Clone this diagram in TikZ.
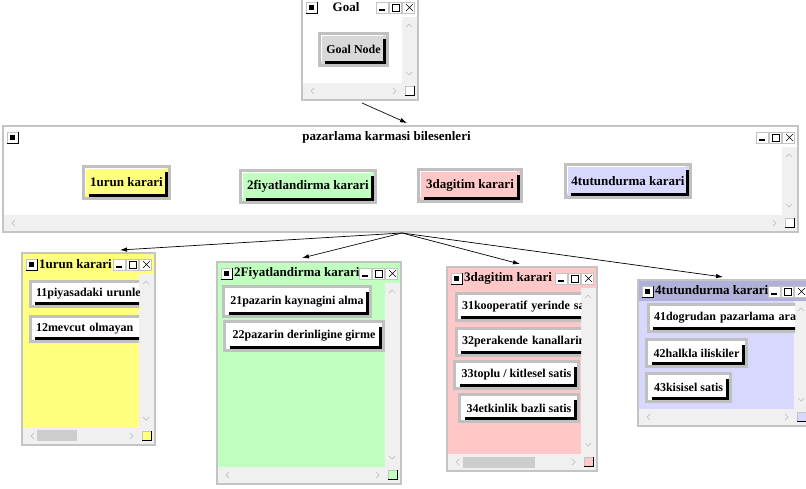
\documentclass[tikz,border=0pt]{standalone}
\usepackage{fontspec}
\setmainfont{Liberation Serif}
\usetikzlibrary{arrows.meta}
\definecolor{rand}{HTML}{C4C4C4}
\definecolor{knoprand}{HTML}{C0C0C0}
\definecolor{schuif}{HTML}{F0F0F0}
\definecolor{lichtgrijs}{HTML}{C0C0C0}
\definecolor{duim}{HTML}{CDCDCD}
\definecolor{geel}{HTML}{FFFF80}
\definecolor{groen}{HTML}{C0FFC0}
\definecolor{roze}{HTML}{FFC8C8}
\definecolor{lila}{HTML}{D8D8FF}
\definecolor{lilatitel}{HTML}{B0B0D8}
\definecolor{knopgrijs}{HTML}{D8D8D8}
\newcommand\knopfont{\fontsize{12}{14}\selectfont\bfseries}
\newcommand\grootfont{\fontsize{13}{15}\selectfont\bfseries}
\tikzstyle{venster}=[draw=rand, line width=2pt, inner sep=0pt]
\tikzstyle{titel}=[font=\grootfont, inner sep=0pt]
\tikzstyle{knop}=[draw=knoprand, line width=3pt, inner sep=0pt, font=\knopfont,
    path picture={
      \draw[black, line width=3.5pt] ([shift={(5pt,3.25pt)}]path picture bounding box.south west)
        -- ([shift={(-3.25pt,3.25pt)}]path picture bounding box.south east)
        -- ([shift={(-3.25pt,-5pt)}]path picture bounding box.north east);
      \draw[white, line width=1pt] ([shift={(2pt,5pt)}]path picture bounding box.south west)
        -- ([shift={(2pt,-2pt)}]path picture bounding box.north west)
        -- ([shift={(-5pt,-2pt)}]path picture bounding box.north east);}]
\tikzstyle{knoplinks}=[knop, anchor=west, text width=190pt, align=left, inner xsep=6pt]
\tikzstyle{pijl}=[-{Latex[length=7pt,width=4.5pt]}, line width=0.7pt]
\tikzstyle{pijltje}=[draw=lichtgrijs, line width=0.7pt]
% name, x1, y1, x2, y2, title fill, body fill
\newcommand{\venster}[7]{%
  \node[venster, fill=#6, minimum width={#4-#2}, minimum height={#5-#3}] (#1)
    at ({(#2+#4)/2},{(#3+#5)/2}) {};
  \fill[#7] (#2+1,#3+21) rectangle (#4-16,#5-17);
  \fill[schuif] (#4-16,#3+21) rectangle (#4-1,#5-1);
  \fill[schuif] (#2+1,#5-17) rectangle (#4-1,#5-1);
  \draw[pijltje] (#4-12,#3+31) -- ++(3,-3) -- ++(3,3);
  \draw[pijltje] (#4-12,#5-28) -- ++(3,3) -- ++(3,-3);
  \draw[pijltje] (#2+12,#5-12) -- ++(-3,3) -- ++(3,3);
  \draw[pijltje] (#4-25,#5-12) -- ++(3,3) -- ++(-3,3);
  \filldraw[fill=#7, draw=rand] (#4-13,#5-14) rectangle (#4-4,#5-5);
  \draw[line width=1pt] (#4-13,#5-5) -- (#4-4,#5-5) -- (#4-4,#5-14);
  \filldraw[fill=white, draw=rand] (#2+4,#3+6) rectangle (#2+15,#3+17);
  \fill (#2+7,#3+9) rectangle (#2+12,#3+14);
  \draw (#2+4,#3+17) -- (#2+15,#3+17) -- (#2+15,#3+6);
  \foreach \k in {0,1,2}
    \filldraw[fill=white, draw=rand] (#4-42+13*\k,#3+6) rectangle ++(12,11);
  \draw[line width=1.5pt] (#4-39,#3+14) -- ++(6,0);
  \draw (#4-26,#3+8) rectangle ++(7,7);
  \draw (#4-12,#3+8) -- ++(7,7) (#4-5,#3+8) -- ++(-7,7);
}

\begin{document}
\begin{tikzpicture}[x=1pt, y=-1pt]
    \useasboundingbox (0,0) rectangle (806,488);
    \venster{goal}{302}{-4}{418}{100}{white}{white}
    \node[titel] (goaltitel) at (346,7) {Goal};
    \node[knop, fill=knopgrijs, minimum width=68, minimum height=32] (goalknop) at (353.5,49.5) {Goal Node};

    \venster{hoofd}{3}{126}{798}{232}{white}{white}
    \node[titel] (hoofdtitel) at (386.5,137) {pazarlama karmasi bilesenleri};
    \node[knop, fill=geel, font=\grootfont, minimum width=86, minimum height=32] (k1) at (126.5,182.5) {1urun karari};
    \node[knop, fill=groen, font=\grootfont, minimum width=135, minimum height=32] (k2) at (308,186.5) {2fiyatlandirma karari};
    \node[knop, fill=roze, font=\grootfont, minimum width=103, minimum height=32] (k3) at (470,185.5) {3dagitim karari};
    \node[knop, fill=lila, font=\grootfont, minimum width=125, minimum height=33] (k4) at (628,181) {4tutundurma karari};

    \venster{w1}{22}{253}{155}{445}{geel}{geel}
    \node[titel, anchor=west] (w1titel) at (39,264) {1urun karari};
    \begin{scope}
      \clip (23,274) rectangle (139,428);
      \node[knoplinks, fill=white, minimum height=25] (k11) at (28.5,294) {11piyasadaki urunle};
      \node[knoplinks, fill=white, minimum height=25] (k12) at (28.5,329) {12mevcut olmayan};
    \end{scope}
    \fill[duim] (37,430) rectangle (77,441);

    \venster{w2}{217}{262}{401}{484}{groen}{groen}
    \node[titel, anchor=west] (w2titel) at (234,273) {2Fiyatlandirma karari};
    \node[knop, fill=white, minimum width=147, minimum height=30] (k21) at (297,301.5) {21pazarin kaynagini alma};
    \node[knop, fill=white, minimum width=159, minimum height=29] (k22) at (304,336) {22pazarin derinligine girme};

    \venster{w3}{447}{267}{597}{471}{roze}{roze}
    \node[titel, anchor=west] (w3titel) at (464,278) {3dagitim karari};
    \begin{scope}
      \clip (448,288) rectangle (581,454);
      \node[knoplinks, fill=white, minimum height=27] (k31) at (454.5,307) {31kooperatif yerinde sa};
      \node[knoplinks, fill=white, minimum height=27] (k32) at (454.5,342) {32perakende kanallarin};
      \node[knop, fill=white, minimum width=124, minimum height=27] (k33) at (516.5,375) {33toplu / kitlesel satis};
      \node[knop, fill=white, minimum width=119, minimum height=27] (k34) at (519,408) {34etkinlik bazli satis};
    \end{scope}
    \fill[duim] (463,457) rectangle (535,468);

    \venster{w4}{638}{280}{810}{426}{lilatitel}{lila}
    \node[titel, anchor=west] (w4titel) at (655,290) {4tutundurma karari};
    \begin{scope}
      \clip (639,301) rectangle (795,409);
      \node[knoplinks, fill=white, minimum height=27] (k41) at (646.5,318) {41dogrudan pazarlama arac};
      \node[knop, fill=white, minimum width=100, minimum height=27] (k42) at (696.5,353) {42halkla iliskiler};
      \node[knop, fill=white, minimum width=84, minimum height=28] (k43) at (688.5,387.5) {43kisisel satis};
    \end{scope}

    \draw[pijl] ([shift={(2,2)}]goal.south) -- ([shift={(6.5,-2)}]hoofd.north);
    \foreach \doel/\dx/\dy in {w1/31.5/-2, w2/-7/-3, w3/-2/-2, w4/-1/-2}
      \draw[pijl] ([shift={(1.5,0)}]hoofd.south) -- ([shift={(\dx,\dy)}]\doel.north);
\end{tikzpicture}
\end{document}
